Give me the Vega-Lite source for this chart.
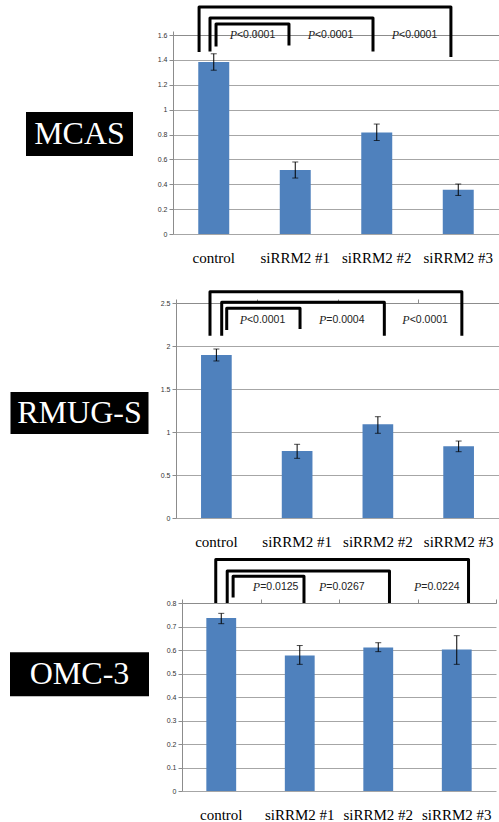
{
  "$schema": "https://vega.github.io/schema/vega-lite/v6.json",
  "padding": {"left": 10, "top": 5, "right": 0, "bottom": 0},
  "background": "white",
  "config": {
    "view": {"stroke": null},
    "axisY": {
      "title": null, "grid": true, "gridColor": "#a6a6a6", "gridWidth": 1,
      "tickSize": 4, "tickColor": "#8c8c8c", "domainColor": "#8c8c8c",
      "labelFont": "Liberation Sans", "labelFontSize": 7, "labelColor": "#333333",
      "labelPadding": 2, "format": ".1~f", "labelOverlap": false
    }
  },
  "datasets": {
    "bars1": [
      {"group": "control", "mean": 1.383, "lo": 1.317, "hi": 1.449},
      {"group": "siRRM2 #1", "mean": 0.514, "lo": 0.45, "hi": 0.579},
      {"group": "siRRM2 #2", "mean": 0.817, "lo": 0.752, "hi": 0.884},
      {"group": "siRRM2 #3", "mean": 0.356, "lo": 0.31, "hi": 0.402}
    ],
    "bars2": [
      {"group": "control", "mean": 1.895, "lo": 1.826, "hi": 1.965},
      {"group": "siRRM2 #1", "mean": 0.78, "lo": 0.694, "hi": 0.857},
      {"group": "siRRM2 #2", "mean": 1.09, "lo": 0.985, "hi": 1.178},
      {"group": "siRRM2 #3", "mean": 0.833, "lo": 0.771, "hi": 0.895}
    ],
    "bars3": [
      {"group": "control", "mean": 0.736, "lo": 0.712, "hi": 0.756},
      {"group": "siRRM2 #1", "mean": 0.577, "lo": 0.539, "hi": 0.619},
      {"group": "siRRM2 #2", "mean": 0.611, "lo": 0.593, "hi": 0.631},
      {"group": "siRRM2 #3", "mean": 0.602, "lo": 0.539, "hi": 0.661}
    ],
    "brk1": [
      {"id": "a", "seq": 1, "bx": 0.32, "by": 1.463},
      {"id": "a", "seq": 2, "bx": 0.32, "by": 1.825},
      {"id": "a", "seq": 3, "bx": 3.41, "by": 1.825},
      {"id": "a", "seq": 4, "bx": 3.41, "by": 1.423},
      {"id": "b", "seq": 1, "bx": 0.454, "by": 1.468},
      {"id": "b", "seq": 2, "bx": 0.454, "by": 1.736},
      {"id": "b", "seq": 3, "bx": 2.454, "by": 1.736},
      {"id": "b", "seq": 4, "bx": 2.454, "by": 1.468},
      {"id": "c", "seq": 1, "bx": 0.528, "by": 1.508},
      {"id": "c", "seq": 2, "bx": 0.528, "by": 1.688},
      {"id": "c", "seq": 3, "bx": 1.423, "by": 1.688},
      {"id": "c", "seq": 4, "bx": 1.423, "by": 1.516}
    ],
    "brk2": [
      {"id": "a", "seq": 1, "bx": 0.421, "by": 2.12},
      {"id": "a", "seq": 2, "bx": 0.421, "by": 2.63},
      {"id": "a", "seq": 3, "bx": 3.54, "by": 2.63},
      {"id": "a", "seq": 4, "bx": 3.54, "by": 2.12},
      {"id": "b", "seq": 1, "bx": 0.566, "by": 2.12},
      {"id": "b", "seq": 2, "bx": 0.566, "by": 2.508},
      {"id": "b", "seq": 3, "bx": 2.58, "by": 2.508},
      {"id": "b", "seq": 4, "bx": 2.58, "by": 2.12},
      {"id": "c", "seq": 1, "bx": 0.628, "by": 2.186},
      {"id": "c", "seq": 2, "bx": 0.628, "by": 2.438},
      {"id": "c", "seq": 3, "bx": 1.536, "by": 2.438},
      {"id": "c", "seq": 4, "bx": 1.536, "by": 2.198}
    ],
    "brk3": [
      {"id": "a", "seq": 1, "bx": 0.43, "by": 0.8},
      {"id": "a", "seq": 2, "bx": 0.43, "by": 0.985},
      {"id": "a", "seq": 3, "bx": 3.65, "by": 0.985},
      {"id": "a", "seq": 4, "bx": 3.65, "by": 0.8},
      {"id": "b", "seq": 1, "bx": 0.576, "by": 0.8},
      {"id": "b", "seq": 2, "bx": 0.576, "by": 0.936},
      {"id": "b", "seq": 3, "bx": 2.643, "by": 0.936},
      {"id": "b", "seq": 4, "bx": 2.643, "by": 0.8},
      {"id": "c", "seq": 1, "bx": 0.651, "by": 0.823},
      {"id": "c", "seq": 2, "bx": 0.651, "by": 0.914},
      {"id": "c", "seq": 3, "bx": 1.554, "by": 0.914},
      {"id": "c", "seq": 4, "bx": 1.554, "by": 0.8}
    ],
    "txt1": [
      {"tx": 0.785, "ty": 1.6, "rest": "<0.0001"},
      {"tx": 1.742, "ty": 1.6, "rest": "<0.0001"},
      {"tx": 2.773, "ty": 1.6, "rest": "<0.0001"}
    ],
    "txt2": [
      {"tx": 0.879, "ty": 2.3, "rest": "<0.0001"},
      {"tx": 1.861, "ty": 2.3, "rest": "=0.0004"},
      {"tx": 2.894, "ty": 2.3, "rest": "<0.0001"}
    ],
    "txt3": [
      {"tx": 0.996, "ty": 0.868, "rest": "=0.0125"},
      {"tx": 1.839, "ty": 0.868, "rest": "=0.0267"},
      {"tx": 3.049, "ty": 0.868, "rest": "=0.0224"}
    ]
  },
  "spacing": 25,
  "vconcat": [
    {
      "spacing": 8,
      "hconcat": [
        {
          "width": 139, "height": 199,
          "data": {"values": [{"label": "MCAS"}]},
          "encoding": {
            "x": {"field": "label", "type": "nominal", "axis": null, "scale": {"paddingInner": 0, "paddingOuter": 0.1495}},
            "y": {"field": "label", "type": "nominal", "axis": null, "scale": {"paddingInner": 0.432, "paddingOuter": 1, "align": 0.497}}
          },
          "layer": [
            {"mark": {"type": "rect", "color": "black"}},
            {"mark": {"type": "text", "color": "white", "font": "Times New Roman, Liberation Serif, serif", "fontSize": 32, "baseline": "middle"}, "encoding": {"text": {"field": "label"}}}
          ]
        },
        {
          "width": 326, "height": 199,
          "resolve": {"scale": {"x": "independent"}, "axis": {"x": "independent"}},
          "layer": [
            {
              "data": {"name": "bars1"},
              "encoding": {
                "x": {"field": "group", "type": "nominal", "sort": null, "scale": {"paddingInner": 0, "paddingOuter": 0},
                      "axis": {"title": null, "ticks": false, "domain": false, "grid": false, "labelAngle": 0, "labelFont": "Times New Roman, Liberation Serif, serif", "labelFontSize": 15, "labelColor": "black", "labelBaseline": "alphabetic", "labelPadding": 28}}
              },
              "layer": [
                {"mark": {"type": "bar", "color": "#4f81bd", "width": {"band": 0.38}},
                 "encoding": {"y": {"field": "mean", "type": "quantitative", "scale": {"domain": [0, 1.6], "nice": false}, "axis": {"values": [0, 0.2, 0.4, 0.6, 0.8, 1, 1.2, 1.4, 1.6]}}}},
                {"mark": {"type": "rule", "color": "black", "strokeWidth": 1},
                 "encoding": {"y": {"field": "lo", "type": "quantitative", "axis": {"values": [0, 0.2, 0.4, 0.6, 0.8, 1, 1.2, 1.4, 1.6]}}, "y2": {"field": "hi"}}},
                {"mark": {"type": "tick", "color": "black", "size": 6, "thickness": 1},
                 "encoding": {"y": {"field": "lo", "type": "quantitative", "axis": {"values": [0, 0.2, 0.4, 0.6, 0.8, 1, 1.2, 1.4, 1.6]}}}},
                {"mark": {"type": "tick", "color": "black", "size": 6, "thickness": 1},
                 "encoding": {"y": {"field": "hi", "type": "quantitative", "axis": {"values": [0, 0.2, 0.4, 0.6, 0.8, 1, 1.2, 1.4, 1.6]}}}}
              ]
            },
            {
              "layer": [
                {
                  "data": {"name": "brk1"},
                  "mark": {"type": "line", "color": "black", "strokeWidth": 3, "strokeJoin": "round", "clip": false},
                  "encoding": {
                    "x": {"field": "bx", "type": "quantitative", "scale": {"domain": [0, 4], "nice": false, "zero": false},
                          "axis": {"title": null, "values": [0, 1, 2, 3, 4], "labels": false, "grid": false, "tickSize": 4, "tickColor": "#8c8c8c", "domainColor": "#8c8c8c"}},
                    "y": {"field": "by", "type": "quantitative", "axis": {"values": [0, 0.2, 0.4, 0.6, 0.8, 1, 1.2, 1.4, 1.6]}},
                    "detail": {"field": "id"},
                    "order": {"field": "seq"}
                  }
                },
                {
                  "data": {"name": "txt1"},
                  "encoding": {
                    "x": {"field": "tx", "type": "quantitative"},
                    "y": {"field": "ty", "type": "quantitative", "axis": {"values": [0, 0.2, 0.4, 0.6, 0.8, 1, 1.2, 1.4, 1.6]}}
                  },
                  "layer": [
                    {"mark": {"type": "text", "text": "P", "font": "Times New Roman, Liberation Serif, serif", "fontStyle": "italic", "fontSize": 12, "align": "right", "baseline": "middle", "color": "#222222", "clip": false}},
                    {"mark": {"type": "text", "font": "Liberation Sans", "fontSize": 10.5, "align": "left", "baseline": "middle", "color": "#222222", "clip": false}, "encoding": {"text": {"field": "rest"}}}
                  ]
                }
              ]
            }
          ]
        }
      ]
    },
    {
      "spacing": 9,
      "vconcat": [
        {
          "spacing": 11,
          "hconcat": [
            {
              "width": 139, "height": 215,
              "data": {"values": [{"label": "RMUG-S"}]},
              "encoding": {
                "x": {"field": "label", "type": "nominal", "axis": null, "scale": {"paddingInner": 0, "paddingOuter": 0.0036}},
                "y": {"field": "label", "type": "nominal", "axis": null, "scale": {"paddingInner": 0.5145, "paddingOuter": 1, "align": 0.514}}
              },
              "layer": [
                {"mark": {"type": "rect", "color": "black"}},
                {"mark": {"type": "text", "color": "white", "font": "Times New Roman, Liberation Serif, serif", "fontSize": 32, "baseline": "middle"}, "encoding": {"text": {"field": "label"}}}
              ]
            },
            {
              "width": 323, "height": 215,
              "resolve": {"scale": {"x": "independent"}, "axis": {"x": "independent"}},
              "layer": [
                {
                  "data": {"name": "bars2"},
                  "encoding": {
                    "x": {"field": "group", "type": "nominal", "sort": null, "scale": {"paddingInner": 0, "paddingOuter": 0},
                          "axis": {"title": null, "ticks": false, "domain": false, "grid": false, "labelAngle": 0, "labelFont": "Times New Roman, Liberation Serif, serif", "labelFontSize": 15, "labelColor": "black", "labelBaseline": "alphabetic", "labelPadding": 28}}
                  },
                  "layer": [
                    {"mark": {"type": "bar", "color": "#4f81bd", "width": {"band": 0.38}},
                     "encoding": {"y": {"field": "mean", "type": "quantitative", "scale": {"domain": [0, 2.5], "nice": false}, "axis": {"values": [0, 0.5, 1, 1.5, 2, 2.5]}}}},
                    {"mark": {"type": "rule", "color": "black", "strokeWidth": 1},
                     "encoding": {"y": {"field": "lo", "type": "quantitative", "axis": {"values": [0, 0.5, 1, 1.5, 2, 2.5]}}, "y2": {"field": "hi"}}},
                    {"mark": {"type": "tick", "color": "black", "size": 6, "thickness": 1},
                     "encoding": {"y": {"field": "lo", "type": "quantitative", "axis": {"values": [0, 0.5, 1, 1.5, 2, 2.5]}}}},
                    {"mark": {"type": "tick", "color": "black", "size": 6, "thickness": 1},
                     "encoding": {"y": {"field": "hi", "type": "quantitative", "axis": {"values": [0, 0.5, 1, 1.5, 2, 2.5]}}}}
                  ]
                },
                {
                  "layer": [
                    {
                      "data": {"name": "brk2"},
                      "mark": {"type": "line", "color": "black", "strokeWidth": 3, "strokeJoin": "round", "clip": false},
                      "encoding": {
                        "x": {"field": "bx", "type": "quantitative", "scale": {"domain": [0, 4], "nice": false, "zero": false},
                              "axis": {"title": null, "values": [0, 1, 2, 3, 4], "labels": false, "grid": false, "tickSize": 4, "tickColor": "#8c8c8c", "domainColor": "#8c8c8c"}},
                        "y": {"field": "by", "type": "quantitative", "axis": {"values": [0, 0.5, 1, 1.5, 2, 2.5]}},
                        "detail": {"field": "id"},
                        "order": {"field": "seq"}
                      }
                    },
                    {
                      "data": {"name": "txt2"},
                      "encoding": {
                        "x": {"field": "tx", "type": "quantitative"},
                        "y": {"field": "ty", "type": "quantitative", "axis": {"values": [0, 0.5, 1, 1.5, 2, 2.5]}}
                      },
                      "layer": [
                        {"mark": {"type": "text", "text": "P", "font": "Times New Roman, Liberation Serif, serif", "fontStyle": "italic", "fontSize": 12, "align": "right", "baseline": "middle", "color": "#222222", "clip": false}},
                        {"mark": {"type": "text", "font": "Liberation Sans", "fontSize": 10.5, "align": "left", "baseline": "middle", "color": "#222222", "clip": false}, "encoding": {"text": {"field": "rest"}}}
                      ]
                    }
                  ]
                }
              ]
            }
          ]
        },
        {
          "spacing": 17,
          "hconcat": [
            {
              "width": 139, "height": 188,
              "data": {"values": [{"label": "OMC-3"}]},
              "encoding": {
                "x": {"field": "label", "type": "nominal", "axis": null, "scale": {"paddingInner": 0, "paddingOuter": 0}},
                "y": {"field": "label", "type": "nominal", "axis": null, "scale": {"paddingInner": 0.3889, "paddingOuter": 1, "align": 0.342}}
              },
              "layer": [
                {"mark": {"type": "rect", "color": "black"}},
                {"mark": {"type": "text", "color": "white", "font": "Times New Roman, Liberation Serif, serif", "fontSize": 32, "baseline": "middle"}, "encoding": {"text": {"field": "label"}}}
              ]
            },
            {
              "width": 314, "height": 188,
              "resolve": {"scale": {"x": "independent"}, "axis": {"x": "independent"}},
              "layer": [
                {
                  "data": {"name": "bars3"},
                  "encoding": {
                    "x": {"field": "group", "type": "nominal", "sort": null, "scale": {"paddingInner": 0, "paddingOuter": 0},
                          "axis": {"title": null, "ticks": false, "domain": false, "grid": false, "labelAngle": 0, "labelFont": "Times New Roman, Liberation Serif, serif", "labelFontSize": 15, "labelColor": "black", "labelBaseline": "alphabetic", "labelPadding": 28}}
                  },
                  "layer": [
                    {"mark": {"type": "bar", "color": "#4f81bd", "width": {"band": 0.38}},
                     "encoding": {"y": {"field": "mean", "type": "quantitative", "scale": {"domain": [0, 0.8], "nice": false}, "axis": {"values": [0, 0.1, 0.2, 0.3, 0.4, 0.5, 0.6, 0.7, 0.8]}}}},
                    {"mark": {"type": "rule", "color": "black", "strokeWidth": 1},
                     "encoding": {"y": {"field": "lo", "type": "quantitative", "axis": {"values": [0, 0.1, 0.2, 0.3, 0.4, 0.5, 0.6, 0.7, 0.8]}}, "y2": {"field": "hi"}}},
                    {"mark": {"type": "tick", "color": "black", "size": 6, "thickness": 1},
                     "encoding": {"y": {"field": "lo", "type": "quantitative", "axis": {"values": [0, 0.1, 0.2, 0.3, 0.4, 0.5, 0.6, 0.7, 0.8]}}}},
                    {"mark": {"type": "tick", "color": "black", "size": 6, "thickness": 1},
                     "encoding": {"y": {"field": "hi", "type": "quantitative", "axis": {"values": [0, 0.1, 0.2, 0.3, 0.4, 0.5, 0.6, 0.7, 0.8]}}}}
                  ]
                },
                {
                  "layer": [
                    {
                      "data": {"name": "brk3"},
                      "mark": {"type": "line", "color": "black", "strokeWidth": 3, "strokeJoin": "round", "clip": false},
                      "encoding": {
                        "x": {"field": "bx", "type": "quantitative", "scale": {"domain": [0, 4], "nice": false, "zero": false},
                              "axis": {"title": null, "values": [0, 1, 2, 3, 4], "labels": false, "grid": false, "tickSize": 4, "tickColor": "#8c8c8c", "domainColor": "#8c8c8c"}},
                        "y": {"field": "by", "type": "quantitative", "axis": {"values": [0, 0.1, 0.2, 0.3, 0.4, 0.5, 0.6, 0.7, 0.8]}},
                        "detail": {"field": "id"},
                        "order": {"field": "seq"}
                      }
                    },
                    {
                      "data": {"name": "txt3"},
                      "encoding": {
                        "x": {"field": "tx", "type": "quantitative"},
                        "y": {"field": "ty", "type": "quantitative", "axis": {"values": [0, 0.1, 0.2, 0.3, 0.4, 0.5, 0.6, 0.7, 0.8]}}
                      },
                      "layer": [
                        {"mark": {"type": "text", "text": "P", "font": "Times New Roman, Liberation Serif, serif", "fontStyle": "italic", "fontSize": 12, "align": "right", "baseline": "middle", "color": "#222222", "clip": false}},
                        {"mark": {"type": "text", "font": "Liberation Sans", "fontSize": 10.5, "align": "left", "baseline": "middle", "color": "#222222", "clip": false}, "encoding": {"text": {"field": "rest"}}}
                      ]
                    }
                  ]
                }
              ]
            }
          ]
        }
      ]
    }
  ]
}
